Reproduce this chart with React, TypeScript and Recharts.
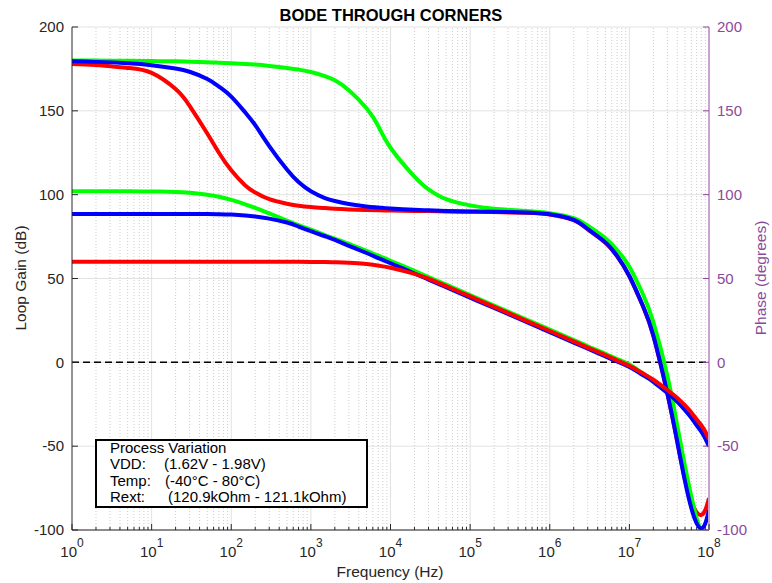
import React from 'react'
import {
  LineChart,
  Line,
  XAxis,
  YAxis,
  CartesianGrid,
  ReferenceLine,
} from 'recharts'

// frequency points (Hz)
const freq = [
  1, 2, 5, 10, 20, 30, 50, 70, 100, 150, 200, 300, 500, 700,
  1e3, 1.5e3, 2e3, 3e3, 5e3, 7e3, 1e4, 2e4, 3e4, 5e4, 1e5, 2e5, 5e5,
  1e6, 2e6, 3e6, 5e6, 7e6, 1e7, 1.5e7, 2e7, 3e7, 4e7, 5e7, 6e7, 7e7, 8e7, 9e7, 1e8,
]

// loop gain (dB)
const gainRed = [
  60, 60, 60, 60, 60, 60, 60, 60, 60, 60, 60, 60, 60, 60,
  59.9, 59.85, 59.7, 59.4, 58.6, 57.7, 56.4, 52.8, 49.9, 45.4, 39.3, 33.1, 24.9,
  18.7, 12.5, 8.8, 4.3, 1.2, -2.1, -6.8, -10.4, -16.5, -21.2, -25.7, -29.9, -34.1, -37.5, -41.4, -45.8,
]
const gainGreen = [
  102, 102, 102, 101.9, 101.6, 101.1, 100, 98.8, 96.9, 94.2, 92.1, 88.8, 84.6, 81.8,
  79.1, 75.9, 73.8, 70.6, 66.5, 63.6, 60.6, 54.5, 50.8, 46.3, 40.1, 33.9, 25.7,
  19.5, 13.3, 9.6, 5.1, 2, -1.3, -6.8, -10.8, -17.6, -22.9, -28, -32.6, -37.1, -40.8, -45, -49.7,
]
const gainBlue = [
  88.5, 88.5, 88.5, 88.5, 88.5, 88.5, 88.45, 88.35, 88.1, 87.6, 87, 85.7, 83.4, 81,
  78.2, 75.2, 73, 69.5, 65.2, 62.2, 59.1, 53, 49.3, 44.8, 38.6, 32.4, 24.2,
  18, 11.8, 8.1, 3.6, 0.5, -2.8, -7.8, -11.6, -18.3, -23.5, -28.5, -33.1, -37.6, -41.3, -45.5, -50.2,
]

// phase (degrees)
const phaseRed = [
  178, 177.4, 175.6, 172.6, 163, 153, 136.5, 125, 114.5, 105.5, 101.3, 97.3, 94.6, 93.4,
  92.6, 92, 91.6, 91.2, 90.9, 90.7, 90.5, 90.3, 90.2, 90, 89.8, 89.6, 89.2,
  88.2, 84.8, 79.3, 71.3, 63.3, 51.3, 32.8, 15.8, -18.7, -47.5, -70, -83, -89.5, -91, -88, -81,
]
const phaseGreen = [
  180, 180, 179.8, 179.7, 179.5, 179.3, 179, 178.7, 178.4, 178, 177.6, 176.8, 175.6, 174.6,
  173.2, 170.7, 168.2, 162.3, 151.5, 141, 128, 110.8, 103.2, 97.3, 93.6, 91.6, 90.3,
  89, 86, 81.5, 74, 67, 57, 40, 24, -8, -38, -62, -80, -93, -101, -106, -108,
]
const phaseBlue = [
  179.5, 179.2, 178.4, 177.2, 175.2, 173.3, 169, 164.5, 158.5, 149, 141.5, 129, 115, 107.5,
  102, 98, 96.2, 94.4, 93, 92.4, 91.8, 91, 90.7, 90.3, 90, 89.8, 89.4,
  88.3, 85, 79.5, 71.5, 63.5, 51.5, 33, 16, -18.5, -47.5, -71, -87, -96, -99, -96, -88,
]

const yTicks = [-100, -50, 0, 50, 100, 150, 200]
const majorX = [1, 10, 100, 1e3, 1e4, 1e5, 1e6, 1e7, 1e8]
const minorX: number[] = []
for (let d = 0; d < 8; d++) {
  for (let k = 2; k <= 9; k++) minorX.push(k * Math.pow(10, d))
}
const xTicks = [...majorX, ...minorX].sort((a, b) => a - b)

const data = freq.map((f, i) => ({
  f,
  gr: gainRed[i],
  gg: gainGreen[i],
  gb: gainBlue[i],
  pr: phaseRed[i],
  pg: phaseGreen[i],
  pb: phaseBlue[i],
}))

const INK = '#262626'
const PURPLE = '#8a4a9a'
const PURPLE_AXIS = '#c8a2d0'
const FONT = '"Liberation Sans", Arial, sans-serif'
const M = 8

const isMajor = (v: number) => {
  const l = Math.log10(v)
  return Math.abs(l - Math.round(l)) < 1e-9
}

function BottomTick(props: any) {
  const { x, y, payload } = props
  const v = payload.value
  const major = isMajor(v)
  const ay = y - M
  return (
    <g>
      <line x1={x} x2={x} y1={ay} y2={ay - (major ? 6 : 3)} stroke={INK} />
      {major && (
        <text x={x} y={ay + 27} textAnchor='middle' fontSize={15} fill={INK} fontFamily={FONT}>
          10
          <tspan dy={-10} fontSize={12}>
            {Math.round(Math.log10(v))}
          </tspan>
        </text>
      )}
    </g>
  )
}

function TopTick(props: any) {
  const { x, y, payload } = props
  const major = isMajor(payload.value)
  const ay = y + M
  return <line x1={x} x2={x} y1={ay} y2={ay + (major ? 6 : 3)} stroke={INK} />
}

function LeftTick(props: any) {
  const { x, y, payload } = props
  const ax = x + M
  return (
    <g>
      <line x1={ax} x2={ax + 6} y1={y} y2={y} stroke={INK} />
      <text x={x} y={y} dy='0.355em' textAnchor='end' fontSize={15} fill={INK} fontFamily={FONT}>
        {payload.value}
      </text>
    </g>
  )
}

function RightTick(props: any) {
  const { x, y, payload } = props
  const ax = x - M
  return (
    <g>
      <line x1={ax} x2={ax - 6} y1={y} y2={y} stroke={PURPLE} />
      <text x={x} y={y} dy='0.355em' textAnchor='start' fontSize={15} fill={PURPLE} fontFamily={FONT}>
        {payload.value}
      </text>
    </g>
  )
}

const curve = 'natural'

export default function App() {
  return (
    <div
      style={{
        position: 'absolute',
        left: 0,
        top: 0,
        width: 772,
        height: 583,
        background: '#fff',
        fontFamily: FONT,
      }}
    >
      <LineChart
        width={772}
        height={583}
        data={data}
        margin={{ top: 27, right: 23, bottom: 23, left: 12 }}
      >
        <CartesianGrid vertical={false} yAxisId='gain' stroke='#e2e2e2' />
        <XAxis
          dataKey='f'
          type='number'
          scale='log'
          domain={[1, 1e8]}
          allowDataOverflow
          ticks={xTicks}
          interval={0}
          height={30}
          tickSize={0}
          tickMargin={M}
          tickLine={false}
          tick={<BottomTick />}
          axisLine={{ stroke: INK }}
        />
        <XAxis
          xAxisId='top'
          orientation='top'
          dataKey='f'
          type='number'
          scale='log'
          domain={[1, 1e8]}
          allowDataOverflow
          ticks={xTicks}
          interval={0}
          height={0}
          tickSize={0}
          tickMargin={M}
          tickLine={false}
          tick={<TopTick />}
          axisLine={{ stroke: INK }}
        />
        <YAxis
          yAxisId='gain'
          orientation='left'
          type='number'
          domain={[-100, 200]}
          allowDataOverflow
          ticks={yTicks}
          interval={0}
          width={60}
          tickSize={0}
          tickMargin={M}
          tickLine={false}
          tick={<LeftTick />}
          axisLine={{ stroke: INK }}
        />
        <YAxis
          yAxisId='phase'
          orientation='right'
          type='number'
          domain={[-100, 200]}
          allowDataOverflow
          ticks={yTicks}
          interval={0}
          width={40}
          tickSize={0}
          tickMargin={M}
          tickLine={false}
          tick={<RightTick />}
          axisLine={{ stroke: PURPLE_AXIS, strokeWidth: 2 }}
        />

        {minorX.map((v) => (
          <ReferenceLine
            key={'m' + v}
            x={v}
            yAxisId='gain'
            stroke='#cdcdcd'
            strokeDasharray='1 2'
          />
        ))}
        {majorX.slice(1, -1).map((v) => (
          <ReferenceLine key={'M' + v} x={v} yAxisId='gain' stroke='#e2e2e2' />
        ))}
        <ReferenceLine
          y={0}
          yAxisId='gain'
          stroke='#000'
          strokeWidth={1.5}
          strokeDasharray='7 4'
        />

        <Line yAxisId='phase' dataKey='pr' type={curve} stroke='#ff0000' strokeWidth={4} dot={false} isAnimationActive={false} />
        <Line yAxisId='phase' dataKey='pg' type={curve} stroke='#00ff00' strokeWidth={4} dot={false} isAnimationActive={false} />
        <Line yAxisId='phase' dataKey='pb' type={curve} stroke='#0000ff' strokeWidth={4} dot={false} isAnimationActive={false} />
        <Line yAxisId='gain' dataKey='gg' type={curve} stroke='#00ff00' strokeWidth={4} dot={false} isAnimationActive={false} />
        <Line yAxisId='gain' dataKey='gb' type={curve} stroke='#0000ff' strokeWidth={4} dot={false} isAnimationActive={false} />
        <Line yAxisId='gain' dataKey='gr' type={curve} stroke='#ff0000' strokeWidth={4} dot={false} isAnimationActive={false} />
      </LineChart>

      <svg
        width={772}
        height={583}
        style={{ position: 'absolute', left: 0, top: 0, pointerEvents: 'none' }}
      >
        <text x={391} y={21} textAnchor='middle' fontSize={16.5} fontWeight='bold' fill='#000'>
          BODE THROUGH CORNERS
        </text>
        <text
          x={0}
          y={0}
          transform='translate(26 278) rotate(-90)'
          textAnchor='middle'
          fontSize={15.5}
          fill={INK}
        >
          Loop Gain (dB)
        </text>
        <text
          x={0}
          y={0}
          transform='translate(766 278) rotate(-90)'
          textAnchor='middle'
          fontSize={15.5}
          fill={PURPLE}
        >
          Phase (degrees)
        </text>
        <text x={390} y={577} textAnchor='middle' fontSize={15.5} fill={INK}>
          Frequency (Hz)
        </text>

        <rect x={96} y={440} width={271} height={67} fill='#fff' stroke='#000' strokeWidth={2} />
        <g fontSize={15} fill='#000'>
          <text x={110} y={452.5}>Process Variation</text>
          <text x={110} y={469}>VDD:</text>
          <text x={164} y={469}>(1.62V - 1.98V)</text>
          <text x={110} y={485.5}>Temp:</text>
          <text x={165} y={485.5}>(-40°C - 80°C)</text>
          <text x={110} y={502}>Rext:</text>
          <text x={168} y={502}>(120.9kOhm - 121.1kOhm)</text>
        </g>
      </svg>
    </div>
  )
}
